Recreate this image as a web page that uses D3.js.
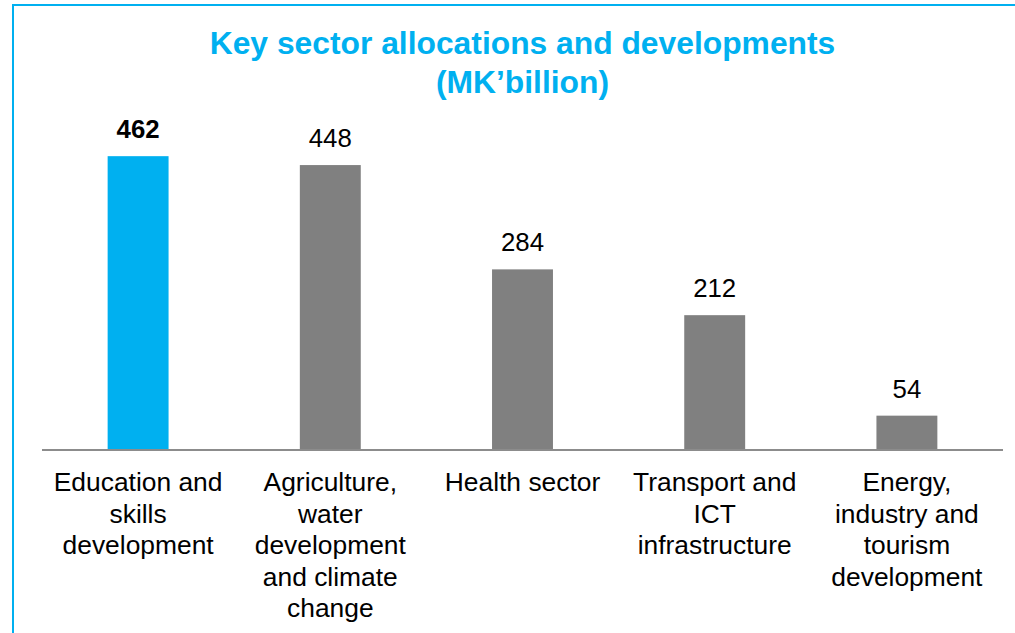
<!DOCTYPE html>
<html>
<head>
<meta charset="utf-8">
<script src="https://cdn.jsdelivr.net/npm/d3@7"></script>
<style>
  html, body { margin: 0; padding: 0; background: #fff; }
  svg { display: block; font-family: "Liberation Sans", Arial, sans-serif; }
</style>
</head>
<body>
<svg id="chart" width="1015" height="633"></svg>
<script>
// Sector budget allocations, MK billion
const categories = ["Education", "Agriculture", "Health", "Transport", "Energy"];
const values = [462, 448, 284, 212, 54];
const categoryLabels = [
  ["Education and", "skills", "development"],
  ["Agriculture,", "water", "development", "and climate", "change"],
  ["Health sector"],
  ["Transport and", "ICT", "infrastructure"],
  ["Energy,", "industry and", "tourism", "development"]
];
const highlighted = ["Education"];
const titleLines = ["Key sector allocations and developments", "(MK\u2019billion)"];

const W = 1015, H = 633;
const svg = d3.select("#chart");
const blue = "#00B0F0", grey = "#808080";

// frame (open to the right and bottom)
svg.append("path")
  .attr("d", "M13,640 L13,5 L1020,5")
  .attr("fill", "none")
  .attr("stroke", blue)
  .attr("stroke-width", 2);

// title
svg.append("text")
  .attr("x", 522.5)
  .attr("text-anchor", "middle")
  .attr("fill", blue)
  .attr("font-weight", "bold")
  .attr("font-size", 31.8)
  .selectAll("tspan")
  .data(titleLines)
  .join("tspan")
  .attr("x", 522.5)
  .attr("y", (d, i) => 54 + i * 39)
  .text(d => d);

const x = d3.scaleBand()
  .domain(categories)
  .range([42, 1003])
  .paddingInner(0.683)
  .paddingOuter(0.3415);

const y = d3.scaleLinear()
  .domain([0, 500])
  .range([450, 132]);

// bars
svg.append("g")
  .selectAll("rect")
  .data(categories)
  .join("rect")
  .attr("x", d => x(d))
  .attr("width", x.bandwidth())
  .attr("y", (d, i) => y(values[i]))
  .attr("height", (d, i) => y(0) - y(values[i]))
  .attr("fill", d => highlighted.includes(d) ? blue : grey);

// value labels
svg.append("g")
  .selectAll("text")
  .data(categories)
  .join("text")
  .attr("x", d => x(d) + x.bandwidth() / 2)
  .attr("y", (d, i) => y(values[i]) - 18)
  .attr("text-anchor", "middle")
  .attr("font-size", 25.8)
  .attr("font-weight", d => highlighted.includes(d) ? "bold" : "normal")
  .attr("fill", "#000")
  .text((d, i) => values[i]);

// category axis with wrapped labels
const axis = svg.append("g")
  .attr("transform", `translate(0,${y(0)})`)
  .call(d3.axisBottom(x).tickSize(0).tickFormat(""));
axis.select(".domain")
  .attr("d", `M42,0H1003`)
  .attr("stroke", "#8c8c8c")
  .attr("stroke-width", 2);

axis.selectAll(".tick").each(function(d, i) {
  const t = d3.select(this).append("text")
    .attr("text-anchor", "middle")
    .attr("fill", "#000")
    .attr("font-size", 26.4)
    .attr("font-family", "'Liberation Sans', Arial, sans-serif");
  t.selectAll("tspan")
    .data(categoryLabels[i])
    .join("tspan")
    .attr("x", 0)
    .attr("y", (l, j) => 41 + j * 31.5)
    .text(l => l);
});
</script>
</body>
</html>
